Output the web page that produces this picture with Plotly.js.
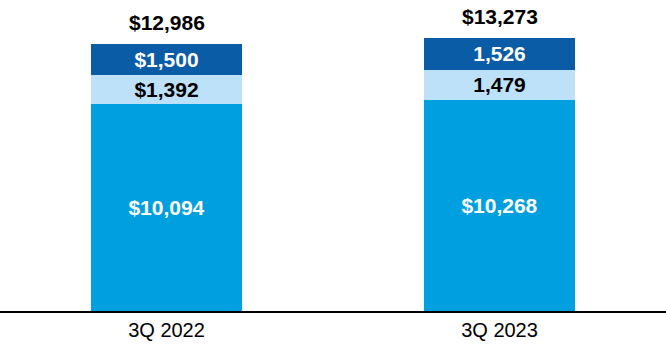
<!DOCTYPE html>
<html>
<head>
<meta charset="utf-8">
<script src="https://cdn.plot.ly/plotly-3.0.1.min.js"></script>
<style>
html,body{margin:0;padding:0;background:#fff;}
#chart{width:666px;height:360px;}
</style>
</head>
<body>
<div id="chart"></div>
<script>
const categories = ["3Q 2022", "3Q 2023"];
const baseValues = [10094, 10268];
const midValues = [1392, 1479];
const topValues = [1500, 1526];
const totals = [12986, 13273];
const baseLabels = ["$10,094", "$10,268"];
const midLabels = ["$1,392", "1,479"];
const topLabels = ["$1,500", "1,526"];
const totalLabels = ["$12,986", "$13,273"];

const labelFont = {family: "Liberation Sans, Arial, sans-serif", size: 21};

function seg(vals, labels, color, textColor) {
  return {
    type: "bar", x: categories, y: vals, text: labels,
    texttemplate: "<b>%{text}</b>",
    textposition: "inside", insidetextanchor: "middle", textangle: 0,
    constraintext: "none",
    textfont: Object.assign({}, labelFont, {color: textColor}),
    marker: {color: color, line: {width: 0}},
    hoverinfo: "skip", showlegend: false
  };
}

const data = [
  seg(baseValues, baseLabels, "#009FE0", "#FFFFFF"),
  seg(midValues, midLabels, "#BDE1F9", "#000000"),
  seg(topValues, topLabels, "#0A5CA6", "#FFFFFF")
];

const annotations = categories.map((c, i) => ({
  x: c, y: totals[i], text: "<b>" + totalLabels[i] + "</b>",
  showarrow: false, yanchor: "bottom", yshift: 8,
  font: Object.assign({}, labelFont, {color: "#000000"})
}));

const layout = {
  width: 666, height: 360,
  margin: {l: 0, r: 0, t: 0, b: 49, pad: 0},
  barmode: "stack", bargap: 0.547,
  paper_bgcolor: "#ffffff", plot_bgcolor: "#ffffff",
  xaxis: {
    type: "category", range: [-0.5, 1.5],
    showline: true, linecolor: "#000000", linewidth: 2,
    ticks: "", showgrid: false, zeroline: false,
    tickfont: {family: "Liberation Sans, Arial, sans-serif", size: 20, color: "#000000"},
    ticklabelstandoff: 0
  },
  yaxis: {range: [0, 15130], visible: false, showgrid: false, zeroline: false},
  annotations: annotations
};

Plotly.newPlot("chart", data, layout, {staticPlot: true, displayModeBar: false});
</script>
</body>
</html>
